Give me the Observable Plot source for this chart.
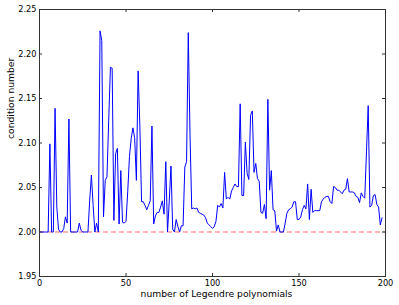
<!DOCTYPE html>
<html>
<head>
<meta charset="utf-8">
<script src="https://cdn.jsdelivr.net/npm/d3@7"></script>
<script src="https://cdn.jsdelivr.net/npm/@observablehq/plot@0.6"></script>
<style>
  html, body { margin: 0; padding: 0; background: #fff; }
</style>
</head>
<body>
<div id="chart"></div>
<script>
// condition number for n = 0..198 Legendre polynomials
const conditionNumber = [
  2.000, 2.000, 2.000, 2.000, 2.000, 2.000, 2.099, 2.000, 2.000, 2.139,
  2.028, 2.003, 2.000, 2.000, 2.004, 2.017, 2.010, 2.127, 2.000, 2.000,
  2.000, 2.000, 2.000, 2.010, 2.002, 2.000, 2.000, 2.000, 2.000, 2.035,
  2.064, 2.030, 2.000, 2.010, 2.000, 2.226, 2.215, 2.017, 2.058, 2.062,
  2.125, 2.185, 2.184, 2.013, 2.088, 2.094, 2.009, 2.069, 2.011, 2.010,
  2.012, 2.045, 2.085, 2.105, 2.117, 2.106, 2.058, 2.181, 2.120, 2.034,
  2.034, 2.030, 2.025, 2.030, 2.035, 2.119, 2.009, 2.018, 2.022, 2.022,
  2.028, 2.035, 2.020, 2.079, 2.000, 2.035, 2.074, 2.003, 2.000, 2.014,
  2.006, 2.000, 2.007, 2.007, 2.073, 2.079, 2.224, 2.110, 2.026, 2.027,
  2.026, 2.027, 2.022, 2.021, 2.020, 2.019, 2.016, 2.010, 2.008, 2.006,
  2.004, 2.006, 2.012, 2.030, 2.028, 2.032, 2.027, 2.067, 2.037, 2.039,
  2.037, 2.046, 2.050, 2.054, 2.051, 2.051, 2.144, 2.041, 2.041, 2.101,
  2.066, 2.059, 2.131, 2.136, 2.067, 2.077, 2.060, 2.057, 2.022, 2.021,
  2.031, 2.015, 2.149, 2.047, 2.069, 2.025, 2.024, 2.001, 2.008, 2.000,
  2.000, 2.000, 2.010, 2.021, 2.025, 2.026, 2.028, 2.034, 2.034, 2.014,
  2.014, 2.017, 2.025, 2.030, 2.026, 2.054, 2.014, 2.048, 2.022, 2.024,
  2.024, 2.024, 2.024, 2.034, 2.037, 2.039, 2.040, 2.040, 2.034, 2.032,
  2.051, 2.050, 2.047, 2.047, 2.045, 2.043, 2.047, 2.048, 2.060, 2.045,
  2.045, 2.045, 2.044, 2.040, 2.039, 2.033, 2.044, 2.040, 2.038, 2.090,
  2.142, 2.028, 2.030, 2.041, 2.042, 2.031, 2.028, 2.008, 2.016
];
const referenceValue = [2.0];
const xTicks = [0, 50, 100, 150, 200];
const yTicks = [1.95, 2.00, 2.05, 2.10, 2.15, 2.20, 2.25];
const xLabel = "number of Legendre polynomials";
const yLabel = "condition number";

const data = conditionNumber.map((v, i) => ({n: i, c: v}));
const frameW = 399 - 39 - 14;
const frameH = 305 - 9 - 29;
const tickLen = 3;
const axisColor = "#333";

const chart = Plot.plot({
  width: 399,
  height: 305,
  marginLeft: 39,
  marginRight: 14,
  marginTop: 9,
  marginBottom: 29,
  style: {fontFamily: "DejaVu Sans", fontSize: "8.2px", color: "#000", background: "#fff"},
  x: {domain: [0, 200]},
  y: {domain: [1.95, 2.25]},
  marks: [
    Plot.ruleY(referenceValue, {y: d => d, stroke: "#ff0000", strokeOpacity: 0.6, strokeWidth: 1, strokeDasharray: "5,3"}),
    Plot.line(data, {x: "n", y: "c", stroke: "#0000ff", strokeWidth: 1}),
    Plot.frame({stroke: axisColor, strokeWidth: 1}),
    // inward ticks on all four sides
    Plot.tickX(xTicks, {x: d => d, stroke: axisColor, insetTop: frameH - tickLen}),
    Plot.tickX(xTicks, {x: d => d, stroke: axisColor, insetBottom: frameH - tickLen}),
    Plot.tickY(yTicks, {y: d => d, stroke: axisColor, insetRight: frameW - tickLen}),
    Plot.tickY(yTicks, {y: d => d, stroke: axisColor, insetLeft: frameW - tickLen}),
    Plot.axisX({ticks: xTicks, tickSize: 0, tickPadding: 3.5, label: null, tickFormat: d3.format("d")}),
    Plot.axisY({ticks: yTicks, tickSize: 0, tickPadding: 3, label: null, tickFormat: d3.format(".2f")}),
    Plot.text([xLabel], {text: d => d, frameAnchor: "bottom", dx: 4, dy: 20.5, fontSize: 9.2, fill: "#000"}),
    Plot.text([yLabel], {text: d => d, frameAnchor: "left", dx: -28.7, dy: -4, rotate: -90, fontSize: 9.2, fill: "#000"})
  ]
});
document.getElementById("chart").appendChild(chart);
</script>
</body>
</html>
